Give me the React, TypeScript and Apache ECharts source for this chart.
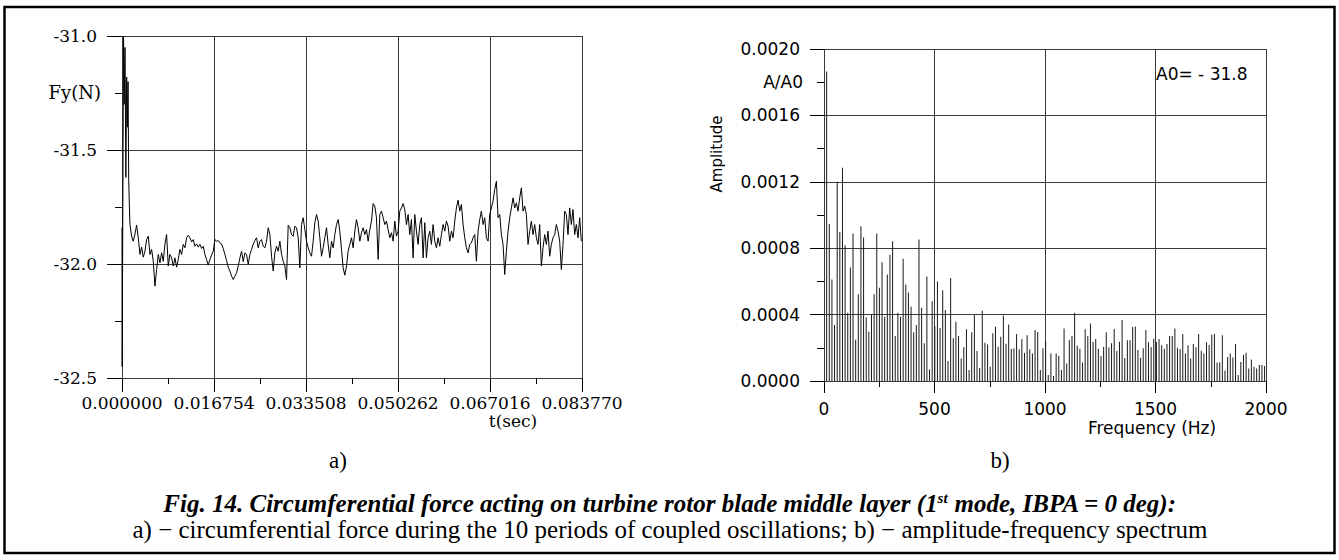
import React, { useEffect, useRef } from "react";
import * as echarts from "echarts";

// ---- a) circumferential force Fy(N) vs t(sec) ----
const TIME_MAX = 0.08377;
const TIME_INTERVAL = 0.016754;
const FORCE_MIN = -32.5;
const FORCE_MAX = -31.0;
const FORCE_INTERVAL = 0.5;

// start-up transient (explicit times)
const START_T = [0, 0.00003, 0.00028, 0.0004, 0.00055, 0.0007, 0.00085, 0.001, 0.0011, 0.00122, 0.00135];
const START_F = [-31.84, -32.45, -31.0, -31.3, -31.05, -31.62, -31.18, -31.4, -31.2, -31.63, -31.75];

// regular samples after the transient
const FORCE_T0 = 0.00145;
const FORCE_DT = 0.00030332;
const FORCE = [
  -31.827, -31.878, -31.900, -31.868, -31.830, -31.885, -31.958, -31.926, -31.970, -31.944, -31.893, -31.878, -31.958, -31.936, -31.988, -32.097, -32.024, -31.958, -31.995, -31.951,
  -31.988, -31.912, -31.871, -32.009, -31.958, -31.973, -32.009, -31.973, -32.014, -31.980, -31.936, -31.958, -31.914, -31.929, -31.885, -31.874, -31.885, -31.903, -31.893, -31.922,
  -31.912, -31.926, -31.914, -31.932, -31.922, -31.958, -31.980, -32.005, -31.980, -31.961, -31.944, -31.893, -31.900, -31.897, -31.907, -31.912, -31.932, -31.958, -31.985, -32.014,
  -32.031, -32.053, -32.068, -32.053, -32.039, -32.009, -31.973, -31.944, -31.990, -31.951, -31.958, -32.002, -31.958, -31.936, -31.914, -31.897, -31.885, -31.929, -31.900, -31.893,
  -31.922, -31.929, -31.900, -31.841, -31.871, -31.966, -32.031, -31.951, -31.922, -31.944, -31.900, -31.958, -31.988, -32.009, -32.068, -31.830, -31.841, -31.871, -31.878, -31.834,
  -31.841, -31.885, -32.017, -31.827, -31.797, -31.849, -31.900, -31.929, -31.951, -31.966, -31.900, -31.819, -31.783, -31.812, -31.885, -31.966, -31.929, -31.885, -31.841, -31.914,
  -31.973, -31.900, -31.929, -31.871, -31.827, -31.805, -31.856, -31.936, -32.017, -32.049, -32.009, -31.944, -31.914, -31.885, -31.929, -31.856, -31.805, -31.841, -31.900, -31.863,
  -31.841, -31.871, -31.849, -31.900, -31.849, -31.812, -31.735, -31.746, -31.797, -31.980, -31.783, -31.768, -31.797, -31.827, -31.812, -31.849, -31.885, -31.863, -31.900, -31.812,
  -31.878, -31.856, -31.768, -31.754, -31.735, -31.761, -31.827, -31.783, -31.871, -31.805, -31.973, -31.783, -31.856, -31.914, -31.827, -31.797, -31.973, -31.819, -31.973, -31.885,
  -31.856, -31.914, -31.827, -31.900, -31.929, -31.885, -31.922, -31.871, -31.827, -31.856, -31.812, -31.834, -31.900, -31.856, -31.885, -31.812, -31.754, -31.720, -31.768, -31.739,
  -31.827, -31.885, -31.929, -31.951, -31.914, -31.907, -31.885, -31.871, -31.988, -31.856, -31.805, -31.768, -31.827, -31.797, -31.885, -31.900, -31.783, -31.754, -31.724, -31.673,
  -31.637, -31.797, -31.783, -31.871, -31.914, -32.046, -31.944, -31.856, -31.797, -31.754, -31.710, -31.754, -31.732, -31.768, -31.710, -31.666, -31.768, -31.746, -31.783, -31.914,
  -31.856, -31.812, -31.871, -31.827, -31.885, -31.914, -31.827, -32.009, -31.929, -31.871, -31.914, -31.856, -31.966, -31.914, -31.885, -31.871, -31.827, -31.856, -31.900, -32.024,
  -31.914, -31.768, -31.783, -31.871, -31.754, -31.827, -31.761, -31.871, -31.827, -31.885, -31.797, -31.900,
];

// ---- b) amplitude-frequency spectrum ----
const FREQ_MAX = 2000;
const FREQ_INTERVAL = 500;
const AMP_MAX = 0.002;
const AMP_INTERVAL = 0.0004;
const FREQ_STEP = 11.937; // 1 / 0.08377 s
const AMPLITUDE = [
  0,
  0.001865, 0.000946, 0.000611, 0.000337, 0.0012, 0.000898, 0.001285, 0.000818, 0.000411, 0.000684,
  0.000888, 0.000249, 0.000523, 0.000932, 0.000864, 0.000383, 0.000297, 0.000397, 0.000523, 0.000888,
  0.000561, 0.000716, 0.000387, 0.000642, 0.00076, 0.000842, 0.000271, 0.000411, 0.000387, 0.000736,
  0.000581, 0.000533, 0.000447, 0.000293, 0.000337, 0.000852, 0.000441, 0.000227, 0.00063, 0.00007,
  0.000481, 0.00033, 0.0006, 0.000319, 0.000547, 0.000427, 0.00012, 0.00062, 0.000257, 0.000357,
  0.000271, 0.000136, 0.000203, 0.000311, 0.000066, 0.000293, 0.000397, 0.00018, 0.000078, 0.000423,
  0.000231, 0.00022, 0.000086, 0.000287, 0.000327, 0.000207, 0.000267, 0.000395, 0.000225, 0.000341,
  0.000193, 0.000197, 0.000283, 0.000191, 0.000253, 0.000168, 0.000275, 0.000191, 0.000166, 0.000307,
  0.000295, 0.000066, 0.000197, 0.000241, 0.000036, 0.000166, 0.00003, 0.000166, 0.000152, 0.000066,
  0.000317, 0.000106, 0.000247, 0.000271, 0.000411, 0.000213, 0.000194, 0.000112, 0.000311, 0.000271,
  0.000347, 0.000235, 0.000253, 0.000194, 0.00015, 0.000206, 0.000293, 0.000203, 0.000227, 0.000313,
  0.00018, 0.000237, 0.000367, 0.000138, 0.000245, 0.000245, 0.000325, 0.000329, 0.000186, 0.00014,
  0.000197, 0.000307, 0.000233, 0.000205, 0.000255, 0.000235, 0.000253, 0.000215, 0.000194, 0.000223,
  0.000271, 0.000271, 0.000317, 0.0002, 0.000192, 0.000283, 0.000166, 0.000215, 0.000136, 0.000223,
  0.000203, 0.000283, 0.000182, 0.000166, 0.000233, 0.000217, 0.000279, 0.000283, 0.000112, 0.000112,
  0.000275, 0.000064, 0.000144, 0.000166, 0.000142, 0.000223, 0.000036, 0.000114, 0.000158, 0.00017,
  0.000076, 0.00013, 0.000086, 0.000076, 0.000096, 0.000096, 0.00009,
];

const SERIF = "'DejaVu Serif', serif";
const SANS = "'DejaVu Sans', sans-serif";
const TIMES = "'Liberation Serif', 'Times New Roman', serif";
const GRID_COLOR = "#3a3a3a";

export default function App() {
  const ref = useRef<HTMLDivElement>(null);

  useEffect(() => {
    if (!ref.current) return;
    const chart = echarts.init(ref.current, undefined, { renderer: "svg" });

    const forceData: [number, number][] = [];
    START_T.forEach((t, i) => forceData.push([t, START_F[i]]));
    FORCE.forEach((f, i) => forceData.push([FORCE_T0 + i * FORCE_DT, f]));

    const ampData: [number, number][] = AMPLITUDE.map((a, k) => [k * FREQ_STEP, a]);

    const tickStyle = { color: "#000", width: 1 };
    const splitStyle = { color: GRID_COLOR, width: 1 };

    chart.setOption({
      animation: false,
      backgroundColor: "#ffffff",
      grid: [
        { left: 122, top: 36, width: 460, height: 342 },
        { left: 824, top: 49, width: 442, height: 332 },
      ],
      xAxis: [
        {
          gridIndex: 0,
          type: "value",
          min: 0,
          max: TIME_MAX,
          interval: TIME_INTERVAL,
          axisLine: { show: false },
          axisTick: { show: true, length: 14, lineStyle: tickStyle },
          minorTick: { show: true, splitNumber: 2, length: 6, lineStyle: tickStyle },
          splitLine: { show: true, lineStyle: splitStyle },
          axisLabel: {
            margin: 16,
            fontFamily: SERIF,
            fontSize: 17,
            color: "#000",
            showMinLabel: true,
            showMaxLabel: true,
            formatter: (v: number) => v.toFixed(6),
          },
        },
        {
          gridIndex: 1,
          type: "value",
          min: 0,
          max: FREQ_MAX,
          interval: FREQ_INTERVAL,
          axisLine: { show: false },
          axisTick: { show: true, length: 12, lineStyle: tickStyle },
          minorTick: { show: true, splitNumber: 2, length: 6, lineStyle: tickStyle },
          splitLine: { show: true, lineStyle: splitStyle },
          axisLabel: {
            margin: 19,
            fontFamily: SANS,
            fontSize: 17,
            color: "#000",
            formatter: (v: number) => String(Math.round(v)),
          },
        },
      ],
      yAxis: [
        {
          gridIndex: 0,
          type: "value",
          min: FORCE_MIN,
          max: FORCE_MAX,
          interval: FORCE_INTERVAL,
          axisLine: { show: false },
          axisTick: { show: true, length: 15, lineStyle: tickStyle },
          minorTick: { show: true, splitNumber: 2, length: 7, lineStyle: tickStyle },
          splitLine: { show: true, lineStyle: splitStyle },
          axisLabel: {
            margin: 25,
            fontFamily: SERIF,
            fontSize: 17,
            color: "#000",
            formatter: (v: number) => v.toFixed(1),
          },
        },
        {
          gridIndex: 1,
          type: "value",
          min: 0,
          max: AMP_MAX,
          interval: AMP_INTERVAL,
          axisLine: { show: false },
          axisTick: { show: true, length: 14, lineStyle: tickStyle },
          minorTick: { show: true, splitNumber: 2, length: 7, lineStyle: tickStyle },
          splitLine: { show: true, lineStyle: splitStyle },
          axisLabel: {
            margin: 24,
            fontFamily: SANS,
            fontSize: 17,
            color: "#000",
            formatter: (v: number) => v.toFixed(4),
          },
        },
      ],
      series: [
        {
          type: "line",
          xAxisIndex: 0,
          yAxisIndex: 0,
          data: forceData,
          symbol: "none",
          showSymbol: false,
          lineStyle: { color: "#000", width: 1 },
          silent: true,
        },
        {
          type: "bar",
          xAxisIndex: 1,
          yAxisIndex: 1,
          data: ampData,
          barWidth: 1,
          itemStyle: { color: "#1a1a1a" },
          silent: true,
        },
      ],
      graphic: [
        {
          type: "rect",
          silent: true,
          shape: { x: 4.5, y: 7, width: 1330, height: 546 },
          style: { fill: "none", stroke: "#000", lineWidth: 2.5 },
        },
        {
          type: "text",
          x: 101,
          y: 92,
          style: { text: "Fy(N)", fontFamily: SERIF, fontSize: 18, fill: "#000", align: "right", verticalAlign: "middle" },
        },
        {
          type: "text",
          x: 513,
          y: 421,
          style: { text: "t(sec)", fontFamily: SERIF, fontSize: 17, fill: "#000", align: "center", verticalAlign: "middle" },
        },
        {
          type: "text",
          x: 803,
          y: 82,
          style: { text: "A/A0", fontFamily: SANS, fontSize: 17, fill: "#000", align: "right", verticalAlign: "middle" },
        },
        {
          type: "text",
          x: 717,
          y: 154,
          rotation: Math.PI / 2,
          style: { text: "Amplitude", fontFamily: SANS, fontSize: 15, fill: "#000", align: "center", verticalAlign: "middle" },
        },
        {
          type: "text",
          x: 1156,
          y: 74,
          style: { text: "A0= - 31.8", fontFamily: SANS, fontSize: 17, fill: "#000", align: "left", verticalAlign: "middle" },
        },
        {
          type: "text",
          x: 1152,
          y: 428,
          style: { text: "Frequency (Hz)", fontFamily: SANS, fontSize: 17, fill: "#000", align: "center", verticalAlign: "middle" },
        },
        {
          type: "text",
          x: 338,
          y: 460,
          style: { text: "a)", fontFamily: TIMES, fontSize: 23, fill: "#000", align: "center", verticalAlign: "middle" },
        },
        {
          type: "text",
          x: 1000,
          y: 460,
          style: { text: "b)", fontFamily: TIMES, fontSize: 23, fill: "#000", align: "center", verticalAlign: "middle" },
        },
        {
          type: "text",
          x: 670,
          y: 503,
          style: {
            text: "{b|Fig. 14. Circumferential force acting on turbine rotor blade middle layer (1}{s|st}{b| mode, IBPA = 0 deg):}",
            align: "center",
            verticalAlign: "middle",
            rich: {
              b: { fontFamily: TIMES, fontSize: 25, fontStyle: "italic", fontWeight: "bold", fill: "#000", lineHeight: 26 },
              s: { fontFamily: TIMES, fontSize: 15, fontStyle: "italic", fontWeight: "bold", fill: "#000", lineHeight: 15, verticalAlign: "top" },
            },
          },
        },
        {
          type: "text",
          x: 670,
          y: 529,
          style: {
            text: "a) \u2212 circumferential force during the 10 periods of coupled oscillations; b) \u2212 amplitude-frequency spectrum",
            fontFamily: TIMES,
            fontSize: 25,
            fill: "#000",
            align: "center",
            verticalAlign: "middle",
          },
        },
      ],
    });

    return () => chart.dispose();
  }, []);

  return (
    <div
      ref={ref}
      style={{ position: "absolute", left: 0, top: 0, width: 1339, height: 560, background: "#fff" }}
    />
  );
}
